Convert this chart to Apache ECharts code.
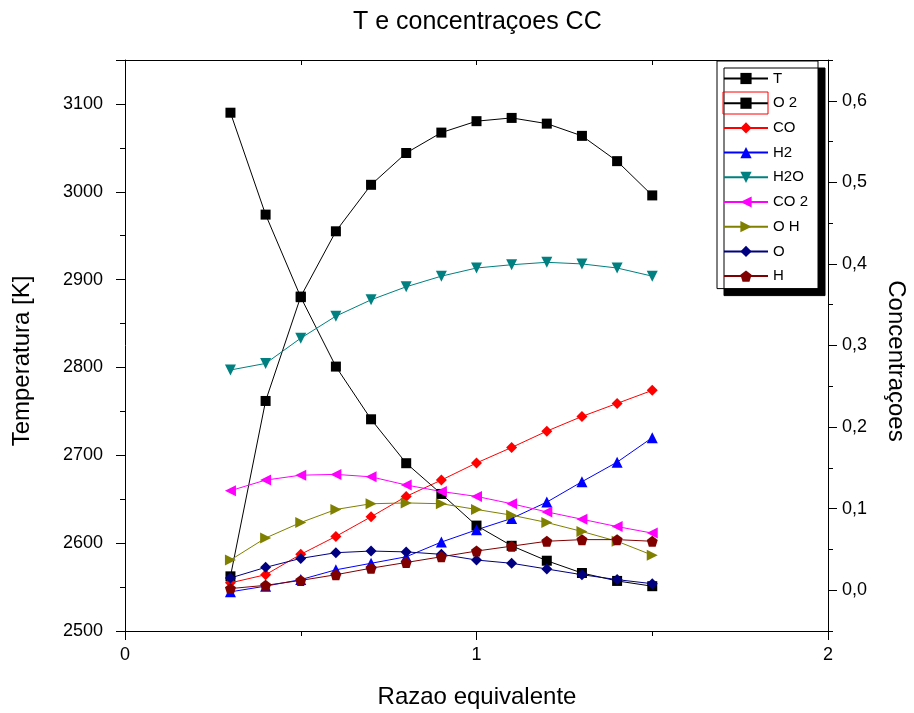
<!DOCTYPE html>
<html>
<head>
<meta charset="utf-8">
<script src="https://cdn.jsdelivr.net/npm/echarts@6/dist/echarts.min.js"></script>
<style>html,body{margin:0;padding:0;background:#fff}#c{width:914px;height:713px}</style>
</head>
<body>
<div id="c"></div>
<script>
const phi = [0.3, 0.4, 0.5, 0.6, 0.7, 0.8, 0.9, 1.0, 1.1, 1.2, 1.3, 1.4, 1.5];
const T   = [3090, 2974, 2880, 2801, 2741, 2691, 2656, 2620, 2597, 2580, 2566, 2557, 2551];
const O2  = [0.017, 0.232, 0.360, 0.440, 0.497, 0.536, 0.561, 0.575, 0.579, 0.572, 0.557, 0.526, 0.484];
const CO  = [0.009, 0.019, 0.044, 0.066, 0.090, 0.115, 0.135, 0.156, 0.175, 0.195, 0.213, 0.229, 0.245];
const H2  = [-0.002, 0.005, 0.013, 0.025, 0.033, 0.041, 0.059, 0.074, 0.088, 0.108, 0.133, 0.157, 0.187];
const H2O = [0.270, 0.278, 0.309, 0.336, 0.356, 0.372, 0.385, 0.395, 0.399, 0.402, 0.400, 0.395, 0.385];
const CO2 = [0.122, 0.135, 0.141, 0.142, 0.139, 0.129, 0.121, 0.115, 0.106, 0.096, 0.087, 0.078, 0.070];
const OH  = [0.037, 0.064, 0.083, 0.099, 0.106, 0.107, 0.106, 0.099, 0.092, 0.083, 0.072, 0.060, 0.043];
const O   = [0.015, 0.028, 0.039, 0.046, 0.048, 0.047, 0.044, 0.037, 0.033, 0.026, 0.019, 0.013, 0.008];
const H   = [0.002, 0.006, 0.012, 0.019, 0.027, 0.034, 0.041, 0.048, 0.054, 0.060, 0.062, 0.062, 0.060];
const names = ['T', 'O 2', 'CO', 'H2', 'H2O', 'CO 2', 'O H', 'O', 'H'];
const xTicksMajor = [0, 1, 2];
const tTicksMajor = [2500, 2600, 2700, 2800, 2900, 3000, 3100, 3150];
const cTicksMajor = [0, 0.1, 0.2, 0.3, 0.4, 0.5, 0.6];

const FONT = '"Liberation Sans", Arial, sans-serif';
const pentagon = 'path://M5,0L10,3.8L8.1,10L1.9,10L0,3.8Z';
const triDown = 'path://M0,0L10,0L5,10Z';
const triLeft = 'path://M0,5L10,0L10,10Z';
const triRight = 'path://M0,0L10,5L0,10Z';

function mk(name, arr, color, symbol, size, yIdx) {
  return {
    name: name, type: 'line', xAxisIndex: 0, yAxisIndex: yIdx,
    data: phi.map((x, i) => [x, arr[i]]),
    symbol: symbol, symbolSize: size, showSymbol: true,
    lineStyle: { color: color, width: 1 },
    itemStyle: { color: color },
    emphasis: { disabled: true },
    animation: false
  };
}

const series = [
  mk(names[0], T, '#000000', 'rect', 10, 0),
  mk(names[1], O2, '#000000', 'rect', 10, 1),
  mk(names[2], CO, '#ff0000', 'diamond', 11, 1),
  mk(names[3], H2, '#0000ff', 'triangle', 11, 1),
  mk(names[4], H2O, '#008080', triDown, 11, 1),
  mk(names[5], CO2, '#ff00ff', triLeft, 11, 1),
  mk(names[6], OH, '#808000', triRight, 11, 1),
  mk(names[7], O, '#000080', 'diamond', 11, 1),
  mk(names[8], H, '#800000', pentagon, 11, 1)
];

const lineStyle = { color: '#000', width: 1 };
const lbl = { color: '#000', fontFamily: FONT, fontSize: 18 };

const chart = echarts.init(document.getElementById('c'), null, { renderer: 'canvas' });
chart.setOption({
  animation: false,
  backgroundColor: '#fff',
  title: {
    text: 'T e concentraçoes CC', left: 353, top: 10, padding: 0,
    textStyle: { color: '#000', fontFamily: FONT, fontSize: 25, fontWeight: 'normal' }
  },
  grid: { left: 125, right: 86, top: 60, bottom: 82, containLabel: false },
  legend: {
    orient: 'vertical', left: 717, top: 61,
    padding: [10, 10, 5, 6],
    itemWidth: 44, itemHeight: 14, itemGap: 9.7,
    backgroundColor: '#fff', borderColor: '#000', borderWidth: 1,
    shadowColor: '#000', shadowBlur: 0, shadowOffsetX: 7, shadowOffsetY: 7,
    textStyle: { color: '#000', fontFamily: FONT, fontSize: 15 },
    selectedMode: false,
    data: names
  },
  xAxis: [
    {
      type: 'value', position: 'bottom', min: 0, max: 2, interval: 0.5,
      axisLine: { show: true, onZero: false, lineStyle: lineStyle },
      axisTick: { show: true, inside: false, length: 5, lineStyle: lineStyle },
      axisLabel: Object.assign({ margin: 15, formatter: v => (Math.abs(v % 1) < 1e-9 ? String(v) : '') }, lbl),
      splitLine: { show: false }
    },
    {
      type: 'value', position: 'bottom', min: 0, max: 2, interval: 0.5,
      axisLine: { show: false, onZero: false },
      axisTick: { show: true, inside: false, length: 9, lineStyle: lineStyle, customValues: xTicksMajor },
      axisLabel: { show: false },
      splitLine: { show: false }
    },
    {
      type: 'value', position: 'top', min: 0, max: 2, interval: 0.5,
      axisLine: { show: true, onZero: false, lineStyle: lineStyle },
      axisTick: { show: true, inside: true, length: 5, lineStyle: lineStyle },
      axisLabel: { show: false },
      splitLine: { show: false }
    }
  ],
  yAxis: [
    {
      type: 'value', position: 'left', min: 2500, max: 3150, interval: 50,
      axisLine: { show: true, onZero: false, lineStyle: lineStyle },
      axisTick: { show: true, inside: false, length: 5, lineStyle: lineStyle },
      axisLabel: Object.assign({ margin: 22, formatter: v => (v % 100 === 0 ? String(v) : '') }, lbl),
      splitLine: { show: false }
    },
    {
      type: 'value', position: 'right', min: -0.05, max: 0.65, interval: 0.05,
      axisLine: { show: true, onZero: false, lineStyle: lineStyle },
      axisTick: { show: true, inside: false, length: 5, lineStyle: lineStyle },
      axisLabel: Object.assign({ margin: 14, formatter: v => {
        const k = Math.round(v * 100);
        if (k % 10 !== 0) return '';
        return (k / 100).toFixed(1).replace('.', ',');
      } }, lbl),
      splitLine: { show: false }
    },
    {
      type: 'value', position: 'left', min: 2500, max: 3150, interval: 50,
      axisLine: { show: false, onZero: false },
      axisTick: { show: true, inside: false, length: 9, lineStyle: lineStyle, customValues: tTicksMajor },
      axisLabel: { show: false },
      splitLine: { show: false }
    },
    {
      type: 'value', position: 'right', min: -0.05, max: 0.65, interval: 0.05,
      axisLine: { show: false, onZero: false },
      axisTick: { show: true, inside: false, length: 9, lineStyle: lineStyle, customValues: cTicksMajor },
      axisLabel: { show: false },
      splitLine: { show: false }
    }
  ],
  graphic: [
    {
      type: 'text', x: 22, y: 361, rotation: Math.PI / 2, z: 10,
      style: { text: 'Temperatura [K]', fill: '#000', font: '24px ' + FONT, align: 'center', verticalAlign: 'middle' }
    },
    {
      type: 'text', x: 896, y: 361, rotation: -Math.PI / 2, z: 10,
      style: { text: 'Concentraçoes', fill: '#000', font: '24px ' + FONT, align: 'center', verticalAlign: 'middle' }
    },
    {
      type: 'text', x: 477, y: 697, z: 10,
      style: { text: 'Razao equivalente', fill: '#000', font: '24px ' + FONT, align: 'center', verticalAlign: 'middle' }
    },
    {
      type: 'rect', z: 100,
      shape: { x: 723, y: 92, width: 45, height: 22 },
      style: { fill: 'none', stroke: '#ff0000', lineWidth: 1 }
    }
  ],
  series: series
});
</script>
</body>
</html>
